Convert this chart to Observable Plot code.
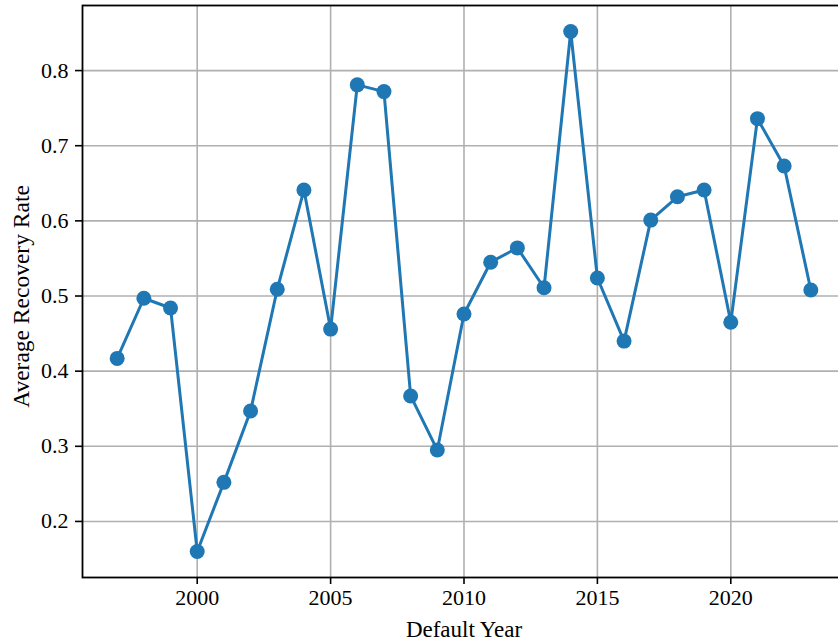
<!DOCTYPE html>
<html>
<head>
<meta charset="utf-8">
<script src="https://cdn.jsdelivr.net/npm/d3@7"></script>
<script src="https://cdn.jsdelivr.net/npm/@observablehq/plot@0.6"></script>
<style>
  html, body { margin: 0; padding: 0; background: #fff; overflow: hidden; }
  #chart { width: 838px; height: 641px; overflow: hidden; }
  #chart svg { display: block; max-width: none !important; width: 845px !important; height: 641px !important; }
</style>
</head>
<body>
<div id="chart"></div>
<script>
const years = [1997, 1998, 1999, 2000, 2001, 2002, 2003, 2004, 2005, 2006, 2007, 2008, 2009, 2010, 2011, 2012, 2013, 2014, 2015, 2016, 2017, 2018, 2019, 2020, 2021, 2022, 2023];
const recovery = [0.417, 0.497, 0.484, 0.160, 0.252, 0.347, 0.509, 0.641, 0.456, 0.781, 0.772, 0.367, 0.295, 0.476, 0.545, 0.564, 0.511, 0.852, 0.524, 0.440, 0.601, 0.632, 0.641, 0.465, 0.736, 0.673, 0.508];
const xTicks = [2000, 2005, 2010, 2015, 2020];
const yTicks = [0.2, 0.3, 0.4, 0.5, 0.6, 0.7, 0.8];
const xLabel = "Default Year";
const yLabel = "Average Recovery Rate";

const data = years.map((y, i) => ({year: y, rate: recovery[i]}));
const color = "#1f77b4";
const font = "'Liberation Serif', serif";

const chart = Plot.plot({
  width: 845,
  height: 641,
  marginLeft: 82,
  marginRight: 0,
  marginTop: 5,
  marginBottom: 64,
  style: {fontFamily: font, fontSize: "22px", color: "black", background: "white"},
  x: {domain: [1995.7, 2024.3]},
  y: {domain: [0.1254, 0.8866]},
  marks: [
    Plot.gridX(xTicks, {stroke: "#b0b0b0", strokeOpacity: 1, strokeWidth: 1.6}),
    Plot.gridY(yTicks, {stroke: "#b0b0b0", strokeOpacity: 1, strokeWidth: 1.6}),
    Plot.axisX(xTicks, {tickSize: 7, tickPadding: 5, tickFormat: d => String(d), label: null, fontSize: 22, strokeWidth: 1.6}),
    Plot.axisY(yTicks, {tickSize: 7, tickPadding: 7, tickFormat: d => d.toFixed(1), label: null, fontSize: 22, strokeWidth: 1.6}),
    Plot.line(data, {x: "year", y: "rate", stroke: color, strokeWidth: 3}),
    Plot.dot(data, {x: "year", y: "rate", fill: color, r: 7.5}),
    Plot.frame({stroke: "black", strokeWidth: 1.8}),
    Plot.text([xLabel], {text: d => d, frameAnchor: "bottom", textAnchor: "middle", dy: 43, lineAnchor: "top", fontSize: 23}),
    Plot.text([yLabel], {text: d => d, frameAnchor: "left", textAnchor: "middle", lineAnchor: "middle", dx: -61, dy: 5, rotate: -90, fontSize: 23.5})
  ]
});
document.getElementById("chart").appendChild(chart);
</script>
</body>
</html>
